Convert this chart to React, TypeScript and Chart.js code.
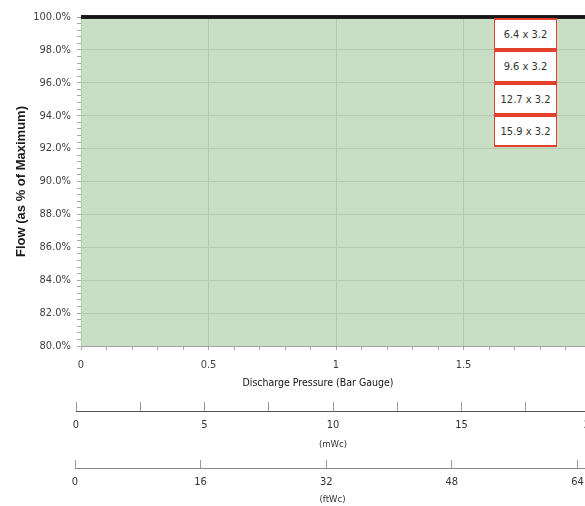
import React, { useEffect, useRef } from 'react';
import { Chart, registerables } from 'chart.js';

Chart.register(...registerables);

// ---- data ----
const seriesLabels = ['6.4 x 3.2', '9.6 x 3.2', '12.7 x 3.2', '15.9 x 3.2'];
const pressureBar = [0, 2];
const flow64 = [100, 100];
const flow96 = [100, 100];
const flow127 = [100, 100];
const flow159 = [100, 100];
const seriesValues = [flow64, flow96, flow127, flow159];

const pressureMin = 0;
const pressureMax = 2;
const pressureMinorStep = 0.1;
const pressureMajorStep = 0.5;

const flowMin = 80;
const flowMax = 100;
const flowMinorStep = 0.4;
const flowMajorStep = 2;

const mWcMax = 20;
const mWcMinorStep = 2.5;
const mWcMajorStep = 5;

const ftWcMax = 65.6;
const ftWcTicks = [0, 16, 32, 48, 64];

const xTitle = 'Discharge Pressure (Bar Gauge)';
const yTitle = 'Flow (as % of Maximum)';
const mWcTitle = '(mWc)';
const ftWcTitle = '(ftWc)';

// ---- style ----
const NARROW = "'Liberation Sans Narrow', 'DejaVu Sans Condensed', Arial, sans-serif";
const SANS = "'Liberation Sans', Arial, sans-serif";
const plotBg = '#c9dfc5';
const gridColor = '#b3c8b1';
const TRANSPARENT = 'rgba(0,0,0,0)';

const range = (min: number, max: number, step: number) => {
  const out: number[] = [];
  const n = Math.round((max - min) / step);
  for (let i = 0; i <= n; i++) out.push(+(min + i * step).toFixed(6));
  return out;
};
const isMajor = (v: number, step: number) => Math.abs(v / step - Math.round(v / step)) < 1e-6;

const bgPlugin = {
  id: 'plotBg',
  beforeDraw(chart: any) {
    const { ctx, chartArea } = chart;
    if (!chartArea) return;
    ctx.save();
    ctx.fillStyle = plotBg;
    ctx.fillRect(chartArea.left, chartArea.top, chartArea.right - chartArea.left, chartArea.bottom - chartArea.top);
    ctx.restore();
  },
};

function MainChart() {
  const ref = useRef<HTMLCanvasElement | null>(null);
  useEffect(() => {
    if (!ref.current) return;
    const chart = new Chart(ref.current, {
      type: 'line',
      data: {
        datasets: seriesLabels.map((label, i) => ({
          label,
          data: pressureBar.map((x, j) => ({ x, y: seriesValues[i][j] })),
          borderColor: '#161616',
          borderWidth: 3,
          pointRadius: 0,
          clip: false as any,
          tension: 0,
        })),
      },
      options: {
        responsive: false,
        animation: false,
        layout: { padding: { top: 17, left: 0, right: 9, bottom: 0 } },
        plugins: { legend: { display: false }, tooltip: { enabled: false } },
        scales: {
          x: {
            type: 'linear',
            min: pressureMin,
            max: pressureMax,
            afterBuildTicks: (s: any) => {
              s.ticks = range(pressureMin, pressureMax, pressureMinorStep).map((v) => ({ value: v }));
            },
            afterFit: (s: any) => {
              s.height = 54;
              s.paddingLeft = 0;
              s.paddingRight = 0;
            },
            grid: {
              color: (c: any) => (c.tick && isMajor(c.tick.value, pressureMajorStep) ? gridColor : TRANSPARENT),
              tickColor: '#a9a9a9',
              tickLength: 4,
              drawTicks: true,
            },
            border: { color: '#a0a0a0', width: 1 },
            ticks: {
              autoSkip: false,
              maxRotation: 0,
              padding: 9,
              color: '#404040',
              font: { family: NARROW, size: 11 },
              callback: (v: any) => (isMajor(Number(v), pressureMajorStep) ? String(v) : ''),
            },
          },
          y: {
            type: 'linear',
            min: flowMin,
            max: flowMax,
            afterBuildTicks: (s: any) => {
              s.ticks = range(flowMin, flowMax, flowMinorStep).map((v) => ({ value: v }));
            },
            afterFit: (s: any) => {
              s.width = 81;
              s.paddingTop = 0;
              s.paddingBottom = 0;
            },
            grid: {
              color: (c: any) => (c.tick && isMajor(c.tick.value, flowMajorStep) ? gridColor : TRANSPARENT),
              tickColor: '#a9a9a9',
              tickLength: 4,
            },
            border: { color: '#b8c9b6', width: 1 },
            ticks: {
              autoSkip: false,
              padding: 6,
              color: '#404040',
              font: { family: NARROW, size: 11 },
              callback: (v: any) => (isMajor(Number(v), flowMajorStep) ? Number(v).toFixed(1) + '%' : ''),
            },
            title: {
              display: true,
              text: yTitle,
              color: '#1a1a1a',
              font: { family: SANS, size: 13, weight: 'bold' },
              padding: { top: 14, bottom: 0 },
            },
          },
        },
      } as any,
      plugins: [bgPlugin],
    });
    return () => chart.destroy();
  }, []);
  return (
    <canvas
      ref={ref}
      width={600}
      height={400}
      style={{ position: 'absolute', left: 0, top: 0, width: 600, height: 400 }}
    />
  );
}

function UnitAxis(props: {
  top: number;
  height: number;
  padTop: number;
  scaleHeight: number;
  left: number;
  right: number;
  max: number;
  ticks: number[];
  majorStep: number;
  title: string;
  titlePadBottom: number;
  labelPad: number;
  borderColor: string;
}) {
  const ref = useRef<HTMLCanvasElement | null>(null);
  const p = props;
  useEffect(() => {
    if (!ref.current) return;
    const chart = new Chart(ref.current, {
      type: 'line',
      data: { datasets: [] },
      options: {
        responsive: false,
        animation: false,
        layout: { padding: { top: p.padTop, left: p.left, right: 640 - p.right, bottom: 0 } },
        plugins: { legend: { display: false }, tooltip: { enabled: false } },
        scales: {
          x: {
            type: 'linear',
            min: 0,
            max: p.max,
            afterBuildTicks: (s: any) => {
              s.ticks = p.ticks.map((v) => ({ value: v }));
            },
            afterFit: (s: any) => {
              s.height = p.scaleHeight;
              s.paddingLeft = 0;
              s.paddingRight = 0;
            },
            grid: { color: '#9b9b9b', drawTicks: false, drawOnChartArea: true, lineWidth: 1 },
            border: { color: p.borderColor, width: 1 },
            ticks: {
              autoSkip: false,
              maxRotation: 0,
              padding: p.labelPad,
              color: '#333',
              font: { family: NARROW, size: 11 },
              callback: (v: any) => (isMajor(Number(v), p.majorStep) ? String(v) : ''),
            },
            title: {
              display: true,
              text: p.title,
              color: '#333',
              font: { family: NARROW, size: 9.5 },
              padding: { top: 0, bottom: p.titlePadBottom },
            },
          },
          y: { display: false, min: 0, max: 1 },
        },
      } as any,
    });
    return () => chart.destroy();
  }, []);
  return (
    <canvas
      ref={ref}
      width={640}
      height={p.height}
      style={{ position: 'absolute', left: 0, top: p.top, width: 640, height: p.height }}
    />
  );
}

export default function App() {
  return (
    <div
      style={{
        position: 'fixed',
        left: 0,
        top: 0,
        width: 585,
        height: 506,
        overflow: 'hidden',
        background: '#fff',
      }}
    >
      <MainChart />
      <div
        style={{
          position: 'absolute',
          left: 218,
          top: 375,
          width: 200,
          textAlign: 'center',
          fontFamily: NARROW,
          fontSize: 10.5,
          lineHeight: '14px',
          color: '#111',
          whiteSpace: 'nowrap',
        }}
      >
        {xTitle}
      </div>
      <div style={{ position: 'absolute', left: 494, top: 18, width: 63 }}>
        {seriesLabels.map((l, i) => (
          <div
            key={l}
            style={{
              boxSizing: 'border-box',
              height: i === 1 ? 33 : 32,
              border: '1.5px solid #e4402f',
              borderTopWidth: 2,
              borderBottomWidth: 2,
              background: '#fff',
              display: 'flex',
              alignItems: 'center',
              justifyContent: 'center',
              fontFamily: NARROW,
              fontSize: 11,
              color: '#333',
            }}
          >
            {l}
          </div>
        ))}
      </div>
      <UnitAxis
        top={395}
        height={60}
        padTop={7}
        scaleHeight={44}
        left={76}
        right={590}
        max={mWcMax}
        ticks={range(0, mWcMax, mWcMinorStep)}
        majorStep={mWcMajorStep}
        title={mWcTitle}
        titlePadBottom={4.5}
        labelPad={8}
        borderColor="#555"
      />
      <UnitAxis
        top={455}
        height={51}
        padTop={5}
        scaleHeight={38}
        left={75}
        right={590}
        max={ftWcMax}
        ticks={ftWcTicks}
        majorStep={16}
        title={ftWcTitle}
        titlePadBottom={0.5}
        labelPad={8}
        borderColor="#8a8a8a"
      />
    </div>
  );
}
